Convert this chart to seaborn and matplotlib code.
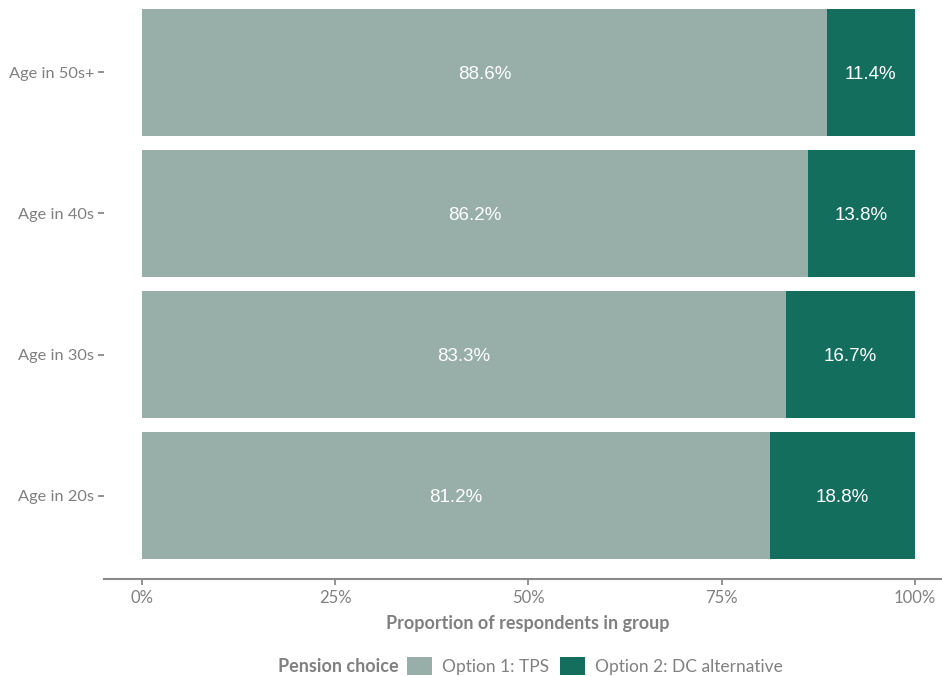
import matplotlib
matplotlib.use("Agg")
import matplotlib.pyplot as plt
import seaborn as sns
import pandas as pd
from matplotlib.patches import Patch

categories = ["Age in 50s+", "Age in 40s", "Age in 30s", "Age in 20s"]
tps = [88.6, 86.2, 83.3, 81.2]
dc = [11.4, 13.8, 16.7, 18.8]
xticks = [0, 0.25, 0.5, 0.75, 1.0]
xticklabels = ["0%", "25%", "50%", "75%", "100%"]

LIGHT = "#97AFA8"
DARK = "#136E5E"
GREY = "#808080"

sns.set_theme(style="white")
plt.rcParams["font.family"] = ["Lato", "DejaVu Sans"]

df = pd.DataFrame({
    "group": categories,
    "tps": [v / 100 for v in tps],
    "total": [(a + b) / 100 for a, b in zip(tps, dc)],
})

fig = plt.figure(figsize=(9.42, 6.76), dpi=100)
ax = fig.add_axes([104 / 942, 1 - 579 / 676, 1 - 104 / 942, 579 / 676])

sns.barplot(data=df, x="total", y="group", order=categories, color=DARK,
            saturation=1, width=0.9, linewidth=0, ax=ax, orient="h")
sns.barplot(data=df, x="tps", y="group", order=categories, color=LIGHT,
            saturation=1, width=0.9, linewidth=0, ax=ax, orient="h")

# labels
lab_font = ["Liberation Sans", "DejaVu Sans"]
for i, (a, b) in enumerate(zip(tps, dc)):
    ax.text(a / 200, i + 0.012, f"{a:.1f}%", ha="center", va="center",
            color="white", fontsize=13.5, family=lab_font)
    ax.text(a / 100 + b / 200, i + 0.012, f"{b:.1f}%", ha="center",
            va="center", color="white", fontsize=13.5, family=lab_font)

ax.set_xlim(-0.049, 1.035)
ax.set_ylim(3.592, -0.514)
ax.set_xticks(xticks)
ax.set_xticklabels(xticklabels)
ax.set_ylabel("")
ax.set_xlabel("Proportion of respondents in group", fontsize=13,
              fontweight="bold", color=GREY)
ax.xaxis.set_label_coords((528 - 104) / 838, -0.062)

for s in ["top", "right", "left"]:
    ax.spines[s].set_visible(False)
ax.spines["bottom"].set_color("#8a8a8a")
ax.spines["bottom"].set_linewidth(1.5)

ax.tick_params(axis="x", colors=GREY, labelsize=12, length=4, width=1.2,
               direction="out", bottom=True, pad=4, labelcolor=GREY)
ax.tick_params(axis="y", colors=GREY, labelsize=11.8, length=4, width=1.2,
               direction="out", left=True, pad=3, labelcolor=GREY)

# legend
fig.text(278 / 942, 1 - 667 / 676, "Pension choice", fontsize=13,
         fontweight="bold", color=GREY, ha="left", va="center")
handles = [Patch(facecolor=LIGHT, edgecolor="none"),
           Patch(facecolor=DARK, edgecolor="none")]
fig.legend(handles, ["Option 1: TPS", "Option 2: DC alternative"],
           loc="center left", bbox_to_anchor=(407 / 942, 1 - 666 / 676),
           ncol=2, frameon=False, fontsize=12.5, labelcolor=GREY,
           handlelength=1.45, handleheight=1.25, handletextpad=0.55,
           columnspacing=0.65, borderpad=0, borderaxespad=0)

fig.savefig("out.png", dpi=100)
